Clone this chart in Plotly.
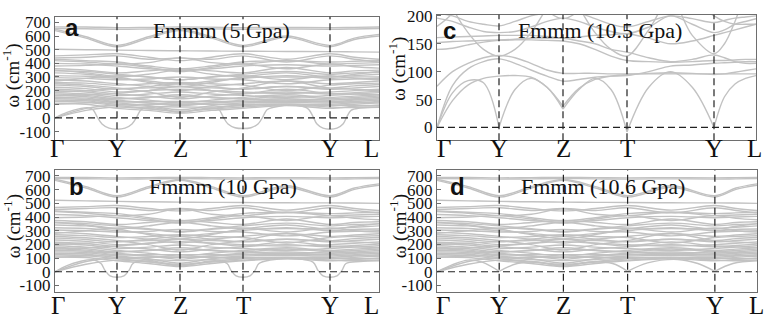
import plotly.graph_objects as go

W, H = 764, 319
BAND_COLOR = '#c2c2c2'
FRAME_COLOR = '#6e6e6e'
DASH_COLOR = '#222222'
SERIF = 'Liberation Serif'
SANS = 'Liberation Sans'

# high-symmetry path (k positions) and labels
K_LABELS = ['Γ', 'Y', 'Z', 'T', 'Y', 'L']
K_TICKS_AB = [0, 62, 125, 188, 275, 324]
K_TICKS_CD = [0, 62, 126, 190, 277, 319]

Y_TICKS_WIDE = [-100, 0, 100, 200, 300, 400, 500, 600, 700]
Y_TICKS_C = [0, 50, 100, 150, 200]

TITLES = ['Fmmm (5 Gpa)', 'Fmmm (10 Gpa)', 'Fmmm (10.5 Gpa)', 'Fmmm (10.6 Gpa)']
LETTERS = ['a', 'b', 'c', 'd']

# ---- panel a : values at Γ, ½, Y, ½, Z, ½, T, ½, Y, ½, L
BANDS_A = [
    [667, 666, 662, 664, 667, 665, 662, 664, 662, 664, 666],
    [655, 654, 650, 652, 655, 653, 650, 652, 650, 652, 655],
    [650, 595, 532, 595, 648, 595, 532, 600, 532, 585, 612],
    [640, 585, 522, 585, 640, 585, 522, 590, 522, 575, 600],
    [503, 500, 497, 494, 492, 490, 489, 487, 486, 484, 482],
    [455, 462, 470, 445, 420, 445, 470, 430, 470, 445, 430],
    [440, 445, 455, 430, 440, 430, 455, 410, 455, 430, 410],
    [430, 420, 410, 380, 360, 380, 410, 420, 410, 415, 420],
    [420, 410, 395, 405, 440, 405, 395, 420, 395, 400, 405],
    [400, 395, 380, 360, 350, 360, 380, 390, 380, 385, 390],
    [380, 385, 395, 370, 340, 370, 395, 360, 395, 375, 365],
    [360, 350, 330, 345, 360, 345, 330, 370, 330, 345, 350],
    [350, 330, 300, 260, 230, 260, 300, 330, 300, 320, 340],
    [345, 340, 320, 300, 280, 300, 320, 340, 320, 330, 335],
    [330, 320, 300, 320, 350, 320, 300, 300, 300, 310, 320],
    [310, 305, 290, 270, 250, 270, 290, 310, 290, 300, 300],
    [295, 290, 280, 285, 300, 285, 280, 250, 280, 285, 290],
    [280, 270, 250, 230, 200, 230, 250, 270, 250, 260, 270],
    [270, 290, 310, 300, 280, 300, 310, 280, 310, 290, 280],
    [260, 255, 240, 250, 260, 250, 240, 200, 240, 250, 255],
    [250, 240, 220, 190, 150, 190, 220, 270, 220, 235, 245],
    [240, 230, 210, 230, 250, 230, 210, 230, 210, 220, 230],
    [225, 215, 190, 200, 210, 200, 190, 180, 190, 200, 210],
    [210, 200, 175, 160, 140, 160, 175, 190, 175, 185, 195],
    [200, 190, 165, 175, 190, 175, 165, 150, 165, 175, 185],
    [190, 200, 215, 220, 230, 220, 215, 230, 215, 210, 200],
    [185, 175, 150, 130, 110, 130, 150, 170, 150, 160, 170],
    [175, 165, 140, 150, 160, 150, 140, 130, 140, 150, 160],
    [165, 155, 130, 110, 90, 110, 130, 140, 130, 140, 150],
    [160, 170, 180, 200, 230, 200, 180, 210, 180, 175, 170],
    [150, 145, 120, 120, 120, 120, 120, 120, 120, 130, 140],
    [140, 135, 110, 90, 60, 90, 110, 115, 110, 120, 130],
    [130, 125, 100, 100, 100, 100, 100, 100, 100, 110, 120],
    [120, 130, 140, 150, 170, 150, 140, 160, 140, 135, 130],
    [120, 115, 90, 70, 45, 70, 90, 100, 90, 100, 110],
    [105, 100, 70, 55, 35, 55, 70, 90, 70, 85, 95],
    [100, 110, 120, 110, 100, 110, 120, 130, 120, 115, 110],
    [0, 70, 95, 85, 80, 80, 95, 100, 95, 90, 90],
    [0, 55, 80, 65, 50, 65, 80, 95, 80, 75, 80],
]
# soft (imaginary) mode of panel a, read point by point
DIP_A_K = [0, 12, 25, 33, 38, 42, 47, 54, 62, 70, 77, 82, 86, 92, 108, 125, 142, 158, 164, 168,
           173, 180, 188, 196, 203, 208, 212, 220, 240, 250, 254, 258, 262, 268, 275, 282, 288,
           292, 296, 305, 324]
DIP_A_W = [0, 40, 68, 75, 60, 10, -45, -75, -83, -75, -45, 10, 60, 75, 65, 40, 62, 72, 60, 10,
           -45, -72, -78, -72, -45, 10, 60, 80, 95, 80, 60, 10, -45, -75, -83, -75, -45,
           10, 55, 72, 78]

# ---- panels b and d share the optical manifold
BANDS_BD = [
    [690, 689, 686, 688, 690, 688, 686, 688, 686, 688, 690],
    [681, 680, 677, 679, 681, 679, 677, 679, 677, 679, 681],
    [676, 622, 556, 622, 674, 622, 556, 628, 556, 612, 642],
    [668, 612, 546, 612, 668, 612, 546, 618, 546, 602, 632],
    [522, 518, 514, 511, 509, 507, 506, 504, 503, 502, 500],
    [470, 476, 484, 462, 445, 462, 484, 450, 484, 462, 448],
    [455, 462, 468, 448, 462, 448, 468, 430, 468, 448, 430],
    [445, 435, 425, 395, 372, 395, 425, 435, 425, 430, 435],
    [440, 428, 410, 420, 460, 420, 410, 435, 410, 415, 420],
    [418, 410, 395, 375, 362, 375, 395, 405, 395, 400, 405],
    [395, 400, 410, 385, 355, 385, 410, 375, 410, 390, 380],
    [375, 365, 345, 360, 375, 360, 345, 385, 345, 360, 365],
    [362, 342, 312, 272, 240, 272, 312, 342, 312, 332, 352],
    [358, 352, 335, 315, 295, 315, 335, 355, 335, 345, 350],
    [342, 335, 315, 335, 362, 335, 315, 315, 315, 325, 335],
    [322, 316, 300, 280, 262, 280, 300, 322, 300, 310, 312],
    [305, 300, 290, 295, 310, 295, 290, 262, 290, 295, 300],
    [288, 278, 258, 238, 210, 238, 258, 280, 258, 268, 278],
    [280, 300, 320, 310, 290, 310, 320, 290, 320, 300, 290],
    [270, 264, 250, 258, 270, 258, 250, 210, 250, 258, 264],
    [258, 248, 228, 198, 158, 198, 228, 280, 228, 242, 252],
    [246, 236, 218, 238, 258, 238, 218, 238, 218, 228, 238],
    [232, 222, 198, 208, 220, 208, 198, 188, 198, 208, 218],
    [216, 206, 182, 166, 145, 166, 182, 198, 182, 192, 202],
    [205, 195, 170, 180, 196, 180, 170, 155, 170, 180, 190],
    [198, 208, 222, 228, 238, 228, 222, 238, 222, 218, 208],
    [190, 180, 155, 135, 115, 135, 155, 175, 155, 165, 175],
    [178, 168, 145, 155, 165, 155, 145, 135, 145, 155, 165],
    [168, 158, 135, 115, 92, 115, 135, 145, 135, 145, 155],
    [165, 175, 188, 208, 238, 208, 188, 218, 188, 182, 176],
    [155, 150, 125, 125, 125, 125, 125, 125, 125, 135, 145],
    [145, 140, 115, 95, 62, 95, 115, 120, 115, 125, 135],
    [135, 128, 105, 105, 105, 105, 105, 105, 105, 115, 125],
    [126, 136, 146, 156, 176, 156, 146, 166, 146, 140, 136],
    [122, 118, 95, 75, 48, 75, 95, 105, 95, 105, 115],
    [108, 104, 80, 60, 38, 60, 80, 95, 80, 90, 100],
    [105, 115, 125, 115, 105, 115, 125, 135, 125, 120, 115],
    [0, 75, 100, 90, 82, 90, 100, 105, 100, 95, 95],
    [0, 55, 85, 70, 55, 70, 85, 100, 85, 80, 85],
]
DIP_B_K = [0, 12, 25, 38, 46, 50, 55, 62, 69, 74, 78, 88, 105, 125, 140, 160, 172, 176, 181, 188,
           195, 200, 204, 215, 240, 258, 263, 268, 275, 282, 287, 291, 305, 324]
DIP_B_W = [0, 45, 75, 88, 60, 10, -30, -40, -30, 10, 60, 85, 70, 40, 60, 80, 60, 10, -30, -40,
           -30, 10, 60, 85, 95, 70, 10, -30, -40, -30, 10, 60, 75, 80]
LOW_D_K = [0, 15, 31, 45, 62, 80, 100, 126, 150, 175, 190, 210, 240, 260, 277, 295, 319]
LOW_D_W = [0, 50, 85, 70, 3, 60, 72, 40, 70, 60, 3, 65, 90, 60, 3, 60, 80]

# ---- panel c : values at Γ, ¼, ½, ¾, Y, ¼, ½, ¾, Z, ..., L (quarter steps)
BANDS_C = [
    [74, 100, 115, 125, 129, 125, 115, 103, 97, 97, 97, 96, 96, 96, 96, 96, 96, 96, 96, 96, 96],
    [0, 75, 105, 118, 123, 115, 103, 92, 83, 86, 90, 92, 93, 100, 110, 112, 115, 116, 117, 118, 118],
    [140, 142, 148, 153, 156, 157, 157, 156, 155, 150, 140, 128, 120, 118, 117, 118, 120, 120, 121, 122, 122],
    [152, 154, 155, 156, 157, 158, 160, 160, 160, 155, 150, 140, 135, 125, 118, 122, 130, 125, 118, 115, 115],
    [161, 162, 163, 164, 165, 165, 165, 163, 160, 162, 165, 166, 168, 160, 150, 155, 165, 170, 175, 180, 185],
    [300, 215, 170, 140, 128, 140, 170, 215, 260, 215, 170, 140, 128, 175, 230, 165, 132, 150, 190, 240, 270],
    [196, 190, 180, 172, 170, 172, 180, 190, 196, 190, 180, 172, 168, 180, 200, 185, 170, 175, 185, 190, 195],
    [181, 205, 250, 300, 320, 300, 250, 210, 195, 210, 250, 300, 320, 300, 260, 230, 200, 190, 185, 185, 185],
    [205, 200, 190, 185, 182, 190, 200, 205, 210, 205, 195, 185, 180, 190, 200, 195, 188, 192, 196, 198, 200],
]
# acoustic branches of panel c, with cusps at the zone points
CUSP_C = [
    [0, 62, 84, 80, 0, 68, 88, 72, 33, 68, 88, 68, -8, 72, 100, 72, 0, 55, 78, 88, 93],
    [0, 48, 76, 88, 92, 93, 90, 72, 38, 70, 86, 92, 95, 97, 98, 97, 95, 96, 99, 102, 105],
]


def px_x(p):
    return p / W


def px_y(p):
    return 1 - p / H


def grid(ticks, n):
    g = [ticks[0]]
    for a, b in zip(ticks[:-1], ticks[1:]):
        for j in range(1, n + 1):
            g.append(a + (b - a) * j / n)
    return g


def joined(xs_list, ys_list):
    X, Y = [], []
    for xs, ys in zip(xs_list, ys_list):
        X += list(xs) + [None]
        Y += list(ys) + [None]
    return X, Y


def split_at(xs, ys, cuts):
    segs_x, segs_y = [[]], [[]]
    for x, y in zip(xs, ys):
        segs_x[-1].append(x)
        segs_y[-1].append(y)
        if x in cuts and len(segs_x[-1]) > 1:
            segs_x.append([x])
            segs_y.append([y])
    return segs_x, segs_y


panels = [
    dict(xd=(55, 379), yd=(9, 137), yr=(-164, 742), kt=K_TICKS_AB, yt=Y_TICKS_WIDE),
    dict(xd=(55, 379), yd=(168, 294), yr=(-147, 742), kt=K_TICKS_AB, yt=Y_TICKS_WIDE),
    dict(xd=(437, 756), yd=(7, 137), yr=(-23, 202), kt=K_TICKS_CD, yt=Y_TICKS_C),
    dict(xd=(437, 757), yd=(168, 294), yr=(-147, 742), kt=K_TICKS_CD, yt=Y_TICKS_WIDE),
]

fig = go.Figure()
line = dict(color=BAND_COLOR, width=1.4, shape='spline')

series = []
g_ab = grid(K_TICKS_AB, 2)
g_cd = grid(K_TICKS_CD, 2)
g_c = grid(K_TICKS_CD, 4)
series.append([joined([g_ab] * len(BANDS_A), BANDS_A), (DIP_A_K, DIP_A_W)])
series.append([joined([g_ab] * len(BANDS_BD), BANDS_BD), (DIP_B_K, DIP_B_W)])
cx, cy = joined([g_c] * len(BANDS_C), BANDS_C)
cusp_parts = []
for b in CUSP_C:
    sx, sy = split_at(g_c, b, set(K_TICKS_CD[1:-1]))
    cusp_parts.append(joined(sx, sy))
series.append([(cx, cy)] + cusp_parts)
dsx, dsy = split_at(LOW_D_K, LOW_D_W, {62, 190, 277})
series.append([joined([g_cd] * len(BANDS_BD), BANDS_BD), joined(dsx, dsy)])

shapes, annotations = [], []
for i, p in enumerate(panels):
    n = '' if i == 0 else str(i + 1)
    xa, ya = 'x' + n, 'y' + n
    for item in series[i]:
        xs, ys = item[0], item[1]
        fig.add_trace(go.Scatter(x=xs, y=ys, mode='lines', line=line, xaxis=xa, yaxis=ya,
                                 hoverinfo='skip', showlegend=False, connectgaps=False))
    fig.layout['xaxis' + n] = dict(
        domain=[px_x(p['xd'][0]), px_x(p['xd'][1])], range=[p['kt'][0], p['kt'][-1]],
        anchor=ya, showticklabels=False, ticks='', showgrid=False, zeroline=False,
        showline=True, mirror=True, linecolor=FRAME_COLOR, linewidth=1)
    fig.layout['yaxis' + n] = dict(
        domain=[px_y(p['yd'][1]), px_y(p['yd'][0])], range=list(p['yr']), anchor=xa,
        tickvals=p['yt'], ticktext=[str(v) for v in p['yt']], ticks='inside', ticklen=4,
        tickcolor=FRAME_COLOR, showgrid=False, zeroline=False, showline=True, mirror=True,
        linecolor=FRAME_COLOR, linewidth=1, tickfont=dict(family=SERIF, size=17, color='#111'))
    for k in p['kt'][1:-1]:
        shapes.append(dict(type='line', xref=xa, yref=ya + ' domain', x0=k, x1=k, y0=0, y1=1,
                           line=dict(color=DASH_COLOR, width=1.2, dash='7px,4px')))
    shapes.append(dict(type='line', xref=xa + ' domain', yref=ya, x0=0, x1=1, y0=0, y1=0,
                       line=dict(color=DASH_COLOR, width=1.2, dash='7px,4px')))

# k-point labels
lab_y = [146, 308, 146, 308]
shift_first = [2, 3, 7, 6]
shift_last = [-8, -8, -2, -1]
for i, p in enumerate(panels):
    n = '' if i == 0 else str(i + 1)
    for j, (k, t) in enumerate(zip(p['kt'], K_LABELS)):
        xs = shift_first[i] if j == 0 else (shift_last[i] if j == len(K_LABELS) - 1 else 0)
        annotations.append(dict(text=t, x=k, xref='x' + n, y=px_y(lab_y[i]), yref='paper',
                                xshift=xs, showarrow=False, xanchor='center', yanchor='middle',
                                font=dict(family=SERIF, size=25, color='#111')))

# titles, letters, y-axis titles
title_pos = [(221, 23), (223, 185), (600, 23), (603, 185)]
letter_pos = [(72, 20), (76, 185), (449, 23), (457, 185)]
ytitle_pos = [(12, 70), (12, 226), (398, 63), (398, 226)]
common = dict(xref='paper', yref='paper', showarrow=False, xanchor='center', yanchor='middle')
for i in range(4):
    annotations.append(dict(text=TITLES[i], x=px_x(title_pos[i][0]), y=px_y(title_pos[i][1]),
                            font=dict(family=SERIF, size=22, color='#111'), **common))
    annotations.append(dict(text='<b>%s</b>' % LETTERS[i], x=px_x(letter_pos[i][0]),
                            y=px_y(letter_pos[i][1]),
                            font=dict(family=SANS, size=24, color='#111'), **common))
    annotations.append(dict(text='ω (cm<sup>-1</sup>)', x=px_x(ytitle_pos[i][0]),
                            y=px_y(ytitle_pos[i][1]), textangle=-90,
                            font=dict(family=SERIF, size=19, color='#111'), **common))

fig.update_layout(width=W, height=H, margin=dict(l=0, r=0, t=0, b=0),
                  paper_bgcolor='white', plot_bgcolor='white',
                  shapes=shapes, annotations=annotations)
fig.write_html('out.html', config={'displayModeBar': False},
               post_script="document.body.style.margin='0';document.body.style.overflow='hidden';")
